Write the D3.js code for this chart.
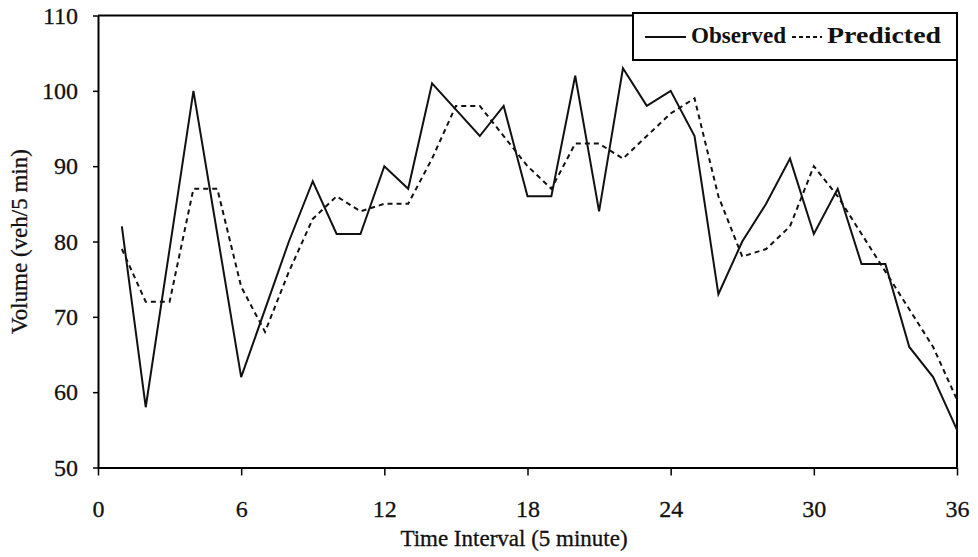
<!DOCTYPE html>
<html>
<head>
<meta charset="utf-8">
<script src="https://cdn.jsdelivr.net/npm/d3@7"></script>
<style>
  body { margin: 0; background: #fff; }
  text { font-family: "Liberation Serif", "Times New Roman", serif; fill: #111; }
</style>
</head>
<body>
<div id="chart"></div>
<script>
// ---- data ----
const intervals = d3.range(1, 37);
const observed = [82, 58, 79, 100, 81, 62, 71, 80, 88, 81, 81, 90,
                  87, 101, 97.5, 94, 98, 86, 86, 102, 84, 103, 98, 100,
                  94, 73, 80, 85, 91, 81, 87, 77, 77, 66, 62, 55];
const predicted = [79, 72, 72, 87, 87, 74, 68, 76, 83, 86, 84, 85,
                   85, 91, 98, 98, 94, 90, 87, 93, 93, 91, 94, 97,
                   99, 86, 78, 79, 82, 90, 86, 81, 76, 71, 66, 59];
const xTicks = [0, 6, 12, 18, 24, 30, 36];
const yTicks = [50, 60, 70, 80, 90, 100, 110];

const width = 978, height = 557;
const margin = {left: 98, right: 21, top: 15.5, bottom: 89.5};

const svg = d3.select('#chart').append('svg')
  .attr('width', width)
  .attr('height', height);

const x = d3.scaleLinear().domain([0, 36]).range([margin.left, width - margin.right]);
const y = d3.scaleLinear().domain([50, 110]).range([height - margin.bottom, margin.top]);

function styleTicks(g) {
  g.select('.domain').attr('stroke-width', 2);
  g.selectAll('.tick line').attr('stroke-width', 1.5);
  g.selectAll('text')
    .attr('font-size', 24)
    .attr('font-family', '"Liberation Serif", serif')
    .attr('stroke', '#111')
    .attr('stroke-width', 0.3);
}

// axes
svg.append('g')
  .attr('transform', `translate(0,${y(50)})`)
  .call(d3.axisBottom(x).tickValues(xTicks).tickSize(8).tickPadding(24).tickSizeOuter(0))
  .call(styleTicks);

svg.append('g')
  .attr('transform', `translate(${x(0)},0)`)
  .call(d3.axisLeft(y).tickValues(yTicks).tickSize(5).tickPadding(15).tickSizeOuter(0))
  .call(styleTicks);

// top and right frame
svg.append('path')
  .attr('d', `M${x(0)},${y(110)}H${x(36)}V${y(50)}`)
  .attr('fill', 'none')
  .attr('stroke', '#000')
  .attr('stroke-width', 2);

// lines
const line = d3.line()
  .x((d, i) => x(intervals[i]))
  .y(d => y(d));

svg.append('path')
  .datum(predicted)
  .attr('d', line)
  .attr('fill', 'none')
  .attr('stroke', '#111')
  .attr('stroke-width', 2)
  .attr('stroke-dasharray', '5,4');

svg.append('path')
  .datum(observed)
  .attr('d', line)
  .attr('fill', 'none')
  .attr('stroke', '#111')
  .attr('stroke-width', 2);

// axis titles
svg.append('text')
  .attr('x', 514)
  .attr('y', 546)
  .attr('text-anchor', 'middle')
  .attr('font-size', 23)
  .attr('stroke', '#111').attr('stroke-width', 0.3)
  .text('Time Interval (5 minute)');

svg.append('text')
  .attr('transform', `translate(27,${(y(50) + y(110)) / 2}) rotate(-90)`)
  .attr('text-anchor', 'middle')
  .attr('font-size', 23)
  .attr('stroke', '#111').attr('stroke-width', 0.3)
  .text('Volume (veh/5 min)');

// legend
const legend = svg.append('g');
legend.append('rect')
  .attr('x', 633).attr('y', 13)
  .attr('width', x(36) - 633).attr('height', 47)
  .attr('fill', '#fff').attr('stroke', '#000').attr('stroke-width', 2);
legend.append('line')
  .attr('x1', 645).attr('x2', 686).attr('y1', 37).attr('y2', 37)
  .attr('stroke', '#111').attr('stroke-width', 2);
legend.append('text')
  .attr('x', 691).attr('y', 43)
  .attr('font-size', 23).attr('font-weight', 'bold')
  .attr('textLength', 95).attr('lengthAdjust', 'spacingAndGlyphs')
  .text('Observed');
legend.append('line')
  .attr('x1', 792).attr('x2', 822).attr('y1', 37).attr('y2', 37)
  .attr('stroke', '#111').attr('stroke-width', 2).attr('stroke-dasharray', '4,3');
legend.append('text')
  .attr('x', 827).attr('y', 43)
  .attr('font-size', 23).attr('font-weight', 'bold')
  .attr('textLength', 114).attr('lengthAdjust', 'spacingAndGlyphs')
  .text('Predicted');
</script>
</body>
</html>
